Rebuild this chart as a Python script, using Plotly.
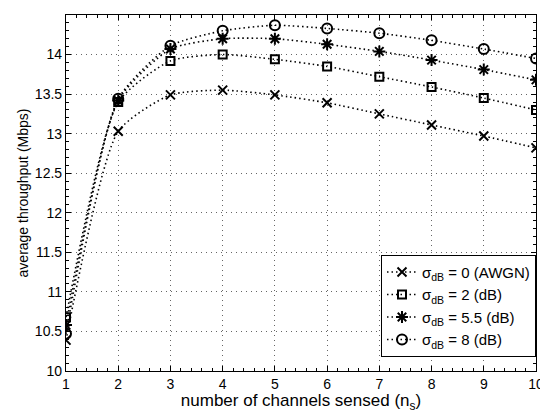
import plotly.graph_objects as go

n_s = [1, 2, 3, 4, 5, 6, 7, 8, 9, 10]
awgn = [10.39, 13.03, 13.49, 13.55, 13.49, 13.39, 13.25, 13.11, 12.97, 12.82]
sig2 = [10.68, 13.40, 13.92, 14.00, 13.94, 13.85, 13.72, 13.59, 13.45, 13.30]
sig55 = [10.58, 13.42, 14.07, 14.20, 14.20, 14.13, 14.04, 13.93, 13.81, 13.68]
sig8 = [10.47, 13.44, 14.11, 14.30, 14.37, 14.33, 14.27, 14.18, 14.07, 13.95]

series = [
    ("σ<sub>dB</sub> = 0 (AWGN)", awgn, "x-thin-open", 9),
    ("σ<sub>dB</sub> = 2 (dB)", sig2, "square-open", 8),
    ("σ<sub>dB</sub> = 5.5 (dB)", sig55, "asterisk-open", 10),
    ("σ<sub>dB</sub> = 8 (dB)", sig8, "circle-open", 10),
]

y_ticks = [10, 10.5, 11, 11.5, 12, 12.5, 13, 13.5, 14, 14.5]
y_ticktext = ["10", "10.5", "11", "11.5", "12", "12.5", "13", "13.5", "14", "14.5"]

FONT = "Liberation Sans, Arial, sans-serif"

fig = go.Figure()
for name, vals, sym, sz in series:
    fig.add_trace(go.Scatter(
        x=n_s, y=vals, name=name, mode="lines+markers",
        line=dict(color="black", dash="1.5px,3px", width=1.6, shape="spline", smoothing=0.6),
        marker=dict(symbol=sym, size=sz, color="black",
                    line=dict(color="black", width=2)),
    ))

axis_common = dict(
    showline=True, linecolor="black", linewidth=1.2, mirror="ticks",
    ticks="inside", ticklen=5, tickcolor="black",
    showgrid=True, gridcolor="rgba(0,0,0,0.6)", griddash="1px,4px", gridwidth=1,
    zeroline=False, automargin=False,
    tickfont=dict(family=FONT, size=14, color="black"),
)

fig.update_xaxes(
    range=[1, 10], tickvals=n_s,
    title=dict(text="number of channels sensed (n<sub>s</sub>)", standoff=0,
               font=dict(family=FONT, size=17, color="black")),
    minor=dict(ticks="inside", dtick=0.2, ticklen=3, tickcolor="black", showgrid=False),
    **axis_common,
)
fig.update_yaxes(
    range=[10, 14.5], tickvals=y_ticks, ticktext=y_ticktext,
    title=dict(text="average throughput (Mbps)", standoff=2,
               font=dict(family=FONT, size=14, color="black")),
    minor=dict(ticks="inside", dtick=0.1, ticklen=3, tickcolor="black", showgrid=False),
    **axis_common,
)

# the page body adds an 8px margin, so the figure is sized to fit the 548x413 window
fig.update_layout(
    width=540, height=405,
    margin=dict(l=58, r=12, t=7, b=42),
    paper_bgcolor="white", plot_bgcolor="white",
    font=dict(family=FONT, size=15, color="black"),
    legend=dict(
        x=1.0, y=0.04, xanchor="right", yanchor="bottom",
        bordercolor="black", borderwidth=1, bgcolor="white",
        font=dict(family=FONT, size=15), tracegroupgap=0, itemwidth=30,
    ),
)

fig.write_html("out.html")
